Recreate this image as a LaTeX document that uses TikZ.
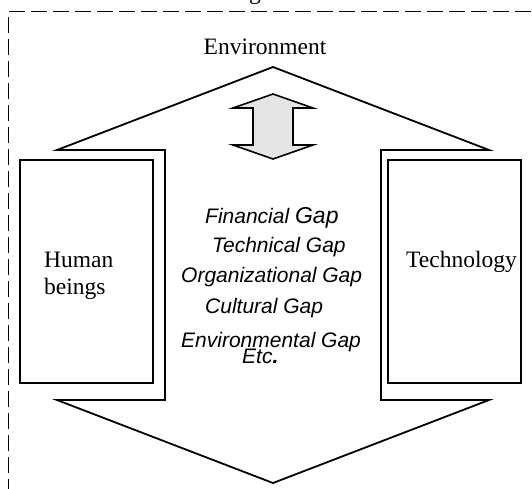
\documentclass[tikz,border=0pt]{standalone}
\usepackage{fontspec}
\setmainfont{Liberation Serif}
\setsansfont{Liberation Sans}
\usepackage{tikz}
\usetikzlibrary{positioning}

\tikzset{
    outline/.style={draw=black, line width=1.8pt, line join=miter},
    serifnode/.style={inner sep=0pt, font=\fontsize{23.5}{27}\selectfont},
    gapnode/.style={inner sep=0pt, anchor=base west, font=\sffamily\itshape\fontsize{21}{25}\selectfont}
}

\begin{document}
\begin{tikzpicture}[x=1pt, y=-1pt]
        \useasboundingbox (0, 0) rectangle (532, 488);

        \node[serifnode, anchor=base] (title) at (255, -1) {g};
        \draw [line width=1.6pt, dash pattern=on 16pt off 6pt] (8.5, 495) -- (8.5, 11.5) -- (545, 11.5);

        \draw [outline] (273, 67) -- (489, 150) -- (381, 150) -- (381, 400) -- (489, 400) -- (273, 483)
              -- (57, 400) -- (165, 400) -- (165, 150) -- (57, 150) -- cycle;
        \draw [outline] (20, 160) rectangle (153, 383);
        \draw [outline] (388, 160) rectangle (521, 383);

        \filldraw [fill=gray!20, outline, line width=1.6pt] (273, 94) -- (313, 108) -- (293, 108) -- (293, 145)
              -- (313, 145) -- (273, 159) -- (233, 145) -- (253, 145) -- (253, 108) -- (233, 108) -- cycle;

        \node[serifnode, anchor=base] (env) at (265, 54) {Environment};
        \node[serifnode, anchor=west, align=left] (human) at (44, 276) {Human\\beings};
        \node[serifnode, anchor=base west] (tech) at (406, 267) {Technology};

        \node[gapnode] (financial) at (205, 223) {Financial {\fontsize{23}{25}\selectfont Gap}};
        \node[gapnode] (technical) at (212, 252) {Technical Gap};
        \node[gapnode] (organizational) at (181, 282) {Organizational Gap};
        \node[gapnode] (cultural) at (205, 313) {Cultural Gap};
        \node[gapnode] (environmental) at (181, 347) {Environmental Gap};
        \node[gapnode] (etc) at (242, 363) {Etc\textbf{.}};
    \end{tikzpicture}
\end{document}
